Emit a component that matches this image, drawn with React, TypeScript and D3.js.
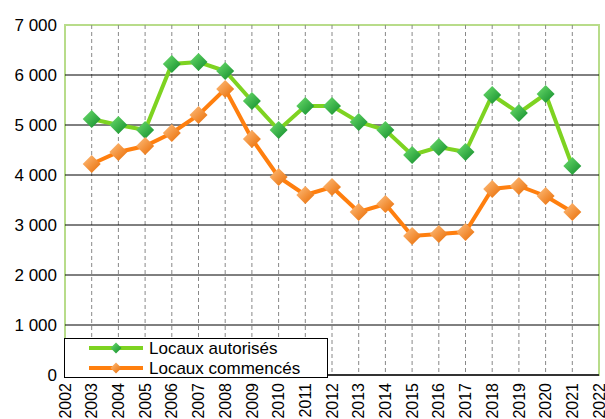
import React, { useRef, useEffect } from "react";
import * as d3 from "d3";

const years = d3.range(2002, 2023);
const dataYears = [2003, 2004, 2005, 2006, 2007, 2008, 2009, 2010, 2011, 2012, 2013, 2014, 2015, 2016, 2017, 2018, 2019, 2020, 2021];
const autorises = [5120, 5000, 4900, 6220, 6260, 6080, 5480, 4900, 5380, 5380, 5060, 4900, 4400, 4560, 4460, 5600, 5240, 5620, 4180];
const commences = [4220, 4460, 4580, 4840, 5200, 5720, 4720, 3960, 3600, 3760, 3260, 3420, 2780, 2820, 2860, 3720, 3780, 3580, 3260];
const yTicks = [0, 1000, 2000, 3000, 4000, 5000, 6000, 7000];

const series = [
  { name: "Locaux autorisés", values: autorises, line: "#7ed321", id: "gGreen", c1: "#6fe06f", c2: "#0f8a2a" },
  { name: "Locaux commencés", values: commences, line: "#ff7f0e", id: "gOrange", c1: "#ffc080", c2: "#e86a00" },
];

const W = 605, H = 419;
const m = { left: 65, right: 6, top: 25, bottom: 44 };
const font = "Liberation Sans, Arial, sans-serif";

const App = () => {
  const ref = useRef<SVGSVGElement>(null);

  useEffect(() => {
    const svg = d3.select(ref.current);
    svg.selectAll("*").remove();

    const x = d3.scaleLinear().domain([2002, 2022]).range([m.left, W - m.right]);
    const y = d3.scaleLinear().domain([0, 7000]).range([H - m.bottom, m.top]);

    const defs = svg.append("defs");
    series.forEach(s => {
      const g = defs.append("linearGradient").attr("id", s.id)
        .attr("x1", "0").attr("y1", "0").attr("x2", "1").attr("y2", "1");
      g.append("stop").attr("offset", "0%").attr("stop-color", s.c1);
      g.append("stop").attr("offset", "100%").attr("stop-color", s.c2);
    });

    // fond + cadre
    svg.append("rect")
      .attr("x", x(2002)).attr("y", y(7000))
      .attr("width", x(2022) - x(2002)).attr("height", y(0) - y(7000))
      .attr("fill", "#fff").attr("stroke", "#b8dc8a").attr("stroke-width", 2);

    // grille verticale
    svg.append("g").selectAll("line")
      .data(years.slice(1, -1))
      .join("line")
      .attr("x1", d => x(d)).attr("x2", d => x(d))
      .attr("y1", y(7000)).attr("y2", y(0))
      .attr("stroke", "#888").attr("stroke-dasharray", "4,3");

    // grille horizontale
    svg.append("g").selectAll("line")
      .data(yTicks.slice(1, -1))
      .join("line")
      .attr("x1", x(2002)).attr("x2", x(2022))
      .attr("y1", d => y(d)).attr("y2", d => y(d))
      .attr("stroke", "#000").attr("stroke-width", 1);

    svg.append("line")
      .attr("x1", x(2002)).attr("x2", x(2022))
      .attr("y1", y(0)).attr("y2", y(0))
      .attr("stroke", "#333").attr("stroke-width", 2);

    // labels Y
    svg.append("g").selectAll("text")
      .data(yTicks)
      .join("text")
      .attr("x", m.left - 8).attr("y", d => y(d))
      .attr("dy", "0.35em").attr("text-anchor", "end")
      .attr("font-family", font).attr("font-size", 17)
      .text(d => d3.format(",")(d).replace(/,/g, " "));

    // labels X (2022 coupé au bord comme dans l'original)
    svg.append("g").selectAll("text")
      .data(years)
      .join("text")
      .attr("transform", d => `translate(${x(d)},${y(0) + 8}) rotate(-90)`)
      .attr("dy", "0.35em").attr("text-anchor", "end")
      .attr("font-family", font).attr("font-size", 16)
      .text(d => d);

    const diamond = (s: number) => `M0,${-s}L${s},0L0,${s}L${-s},0Z`;

    series.forEach(s => {
      const pts = dataYears.map((yr, i) => [x(yr), y(s.values[i])] as [number, number]);
      svg.append("path")
        .attr("d", d3.line()(pts))
        .attr("fill", "none").attr("stroke", s.line).attr("stroke-width", 4);
      svg.append("g").selectAll("path")
        .data(pts)
        .join("path")
        .attr("transform", d => `translate(${d[0]},${d[1]})`)
        .attr("d", diamond(9))
        .attr("fill", `url(#${s.id})`);
    });

    // légende
    const lg = svg.append("g");
    lg.append("rect")
      .attr("x", 64.5).attr("y", 338.5).attr("width", 263).attr("height", 39)
      .attr("fill", "#fff").attr("stroke", "#000");
    series.forEach((s, i) => {
      const ly = 348 + i * 20;
      lg.append("line").attr("x1", 89).attr("x2", 143).attr("y1", ly).attr("y2", ly)
        .attr("stroke", s.line).attr("stroke-width", 4);
      lg.append("path").attr("transform", `translate(116,${ly})`)
        .attr("d", diamond(5.5)).attr("fill", `url(#${s.id})`);
      lg.append("text").attr("x", 149).attr("y", ly).attr("dy", "0.35em")
        .attr("font-family", font).attr("font-size", 17)
        .text(s.name);
    });
  }, []);

  return <svg ref={ref} width={W} height={H} style={{ position: "absolute", left: 0, top: 0, background: "#fff" }} />;
};

export default App;
